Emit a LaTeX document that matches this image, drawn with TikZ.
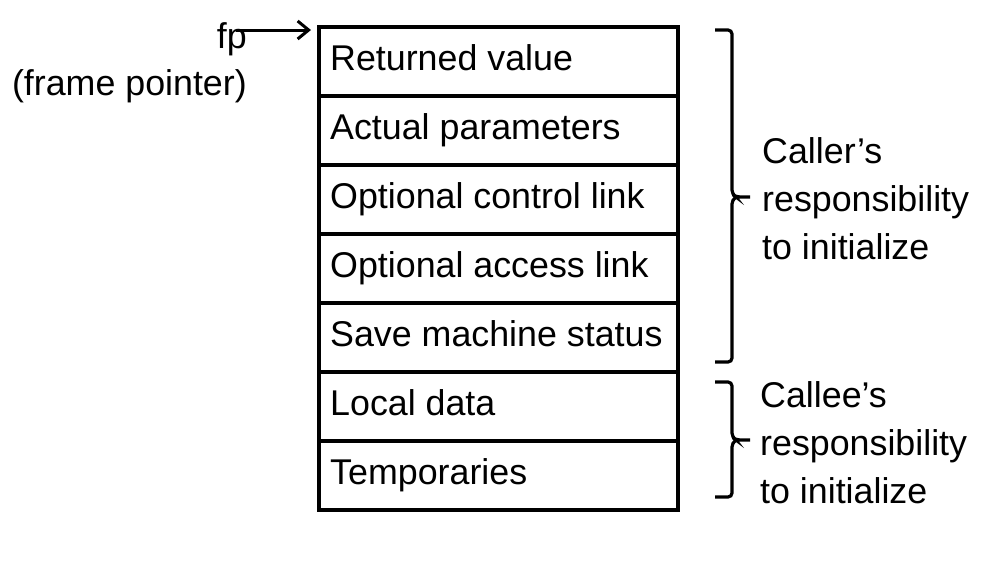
\documentclass[tikz,border=0pt]{standalone}
\usepackage{fontspec}
\setmainfont{Liberation Sans}
\usetikzlibrary{arrows.meta}
\begin{document}
\begin{tikzpicture}[x=1pt,y=-1pt,
  cell/.style={draw,line width=3.2pt,rectangle,minimum width=359pt,minimum height=69pt,anchor=north west,inner sep=0pt,outer sep=0pt},
  fnt/.style={font=\fontsize{35.8}{36}\selectfont,inner sep=0pt},
  txt/.style={fnt,anchor=base west},
  lbl/.style={fnt,anchor=base west},
  brc/.style={line width=3.2pt,rounded corners=4pt}]
\useasboundingbox (0,0) rectangle (991,566);
\node[cell] (r1) at (319,27) {};
\node[cell] (r2) at (319,96) {};
\node[cell] (r3) at (319,165) {};
\node[cell] (r4) at (319,234) {};
\node[cell] (r5) at (319,303) {};
\node[cell] (r6) at (319,372) {};
\node[cell] (r7) at (319,441) {};
\node[txt] (t1) at (330,70) {Returned value};
\node[txt] (t2) at (330,139) {Actual parameters};
\node[txt] (t3) at (330,208) {Optional control link};
\node[txt] (t4) at (330,277) {Optional access link};
\node[txt] (t5) at (330,346) {Save machine status};
\node[txt] (t6) at (330,415) {Local data};
\node[txt] (t7) at (330,484) {Temporaries};
\node[fnt,anchor=base east] (fp) at (247,48) {fp};
\node[fnt,anchor=base east] (fpl) at (247,95) {(frame pointer)};
\coordinate (fs) at (236,30);
\coordinate (fe) at (311,30);
\draw[line width=3pt,-{Straight Barb[length=11pt,width=18pt,line width=3pt]}] (fs) -- (fe);
\draw[brc] (715,30) -- (732,30) -- (732,194) -- (736,197) -- (750,197);
\draw[brc] (736,197) -- (732,200) -- (732,362) -- (715,362);
\draw[brc] (715,382) -- (732,382) -- (732,437) -- (736,440) -- (750,440);
\draw[brc] (736,440) -- (732,443) -- (732,497) -- (715,497);
\node[lbl] (c1) at (762,163) {Caller’s};
\node[lbl] (c2) at (762,211) {responsibility};
\node[lbl] (c3) at (762,259) {to initialize};
\node[lbl] (e1) at (760,407) {Callee’s};
\node[lbl] (e2) at (760,455) {responsibility};
\node[lbl] (e3) at (760,503) {to initialize};
\end{tikzpicture}
\end{document}
